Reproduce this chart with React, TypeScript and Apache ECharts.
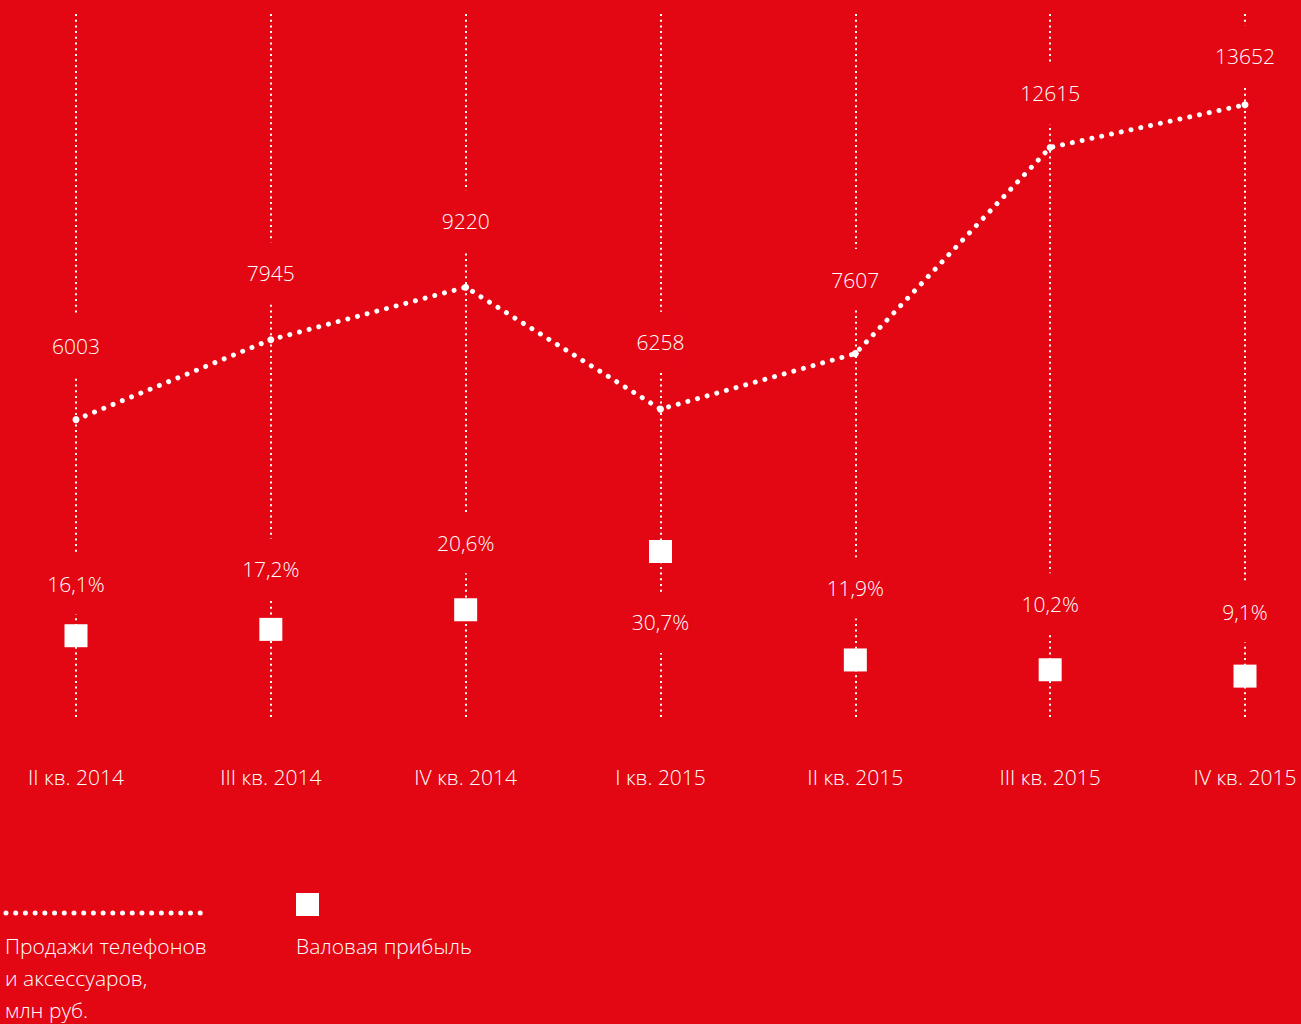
import React, { useEffect, useRef } from "react";
import * as echarts from "echarts";

const categories = [
  "II кв. 2014",
  "III кв. 2014",
  "IV кв. 2014",
  "I кв. 2015",
  "II кв. 2015",
  "III кв. 2015",
  "IV кв. 2015",
];
const sales = [6003, 7945, 9220, 6258, 7607, 12615, 13652];
const grossMargin = [16.1, 17.2, 20.6, 30.7, 11.9, 10.2, 9.1];

const salesName = "Продажи телефонов\nи аксессуаров,\nмлн руб.";
const marginName = "Валовая прибыль";

// layout: vertical label shifts (px) relative to the point
const salesLabelShift = [-74, -67, -66, -67, -74, -54, -49];
const marginLabelShift = [-52, -60, -67, 71, -72, -66, -64];

const RED = "#E30613";
const FONT = "'Open Sans', 'Noto Sans', sans-serif";

export default function App() {
  const ref = useRef<HTMLDivElement>(null);
  useEffect(() => {
    document.body.style.margin = "0";
    if (!ref.current) return;
    const chart = echarts.init(ref.current, null, { renderer: "svg" });
    const labelBase = {
      show: true,
      position: "inside",
      color: "#ffffff",
      fontFamily: FONT,
      fontWeight: 300,
      fontSize: 21,
      lineHeight: 21,
      backgroundColor: RED,
      padding: [20, 2],
    };
    chart.setOption({
      animation: false,
      backgroundColor: RED,
      textStyle: { fontFamily: FONT },
      grid: { left: 76, right: 56, top: 14, bottom: 306 },
      xAxis: {
        type: "category",
        data: categories,
        boundaryGap: false,
        axisLine: { show: false },
        axisTick: { show: false },
        axisLabel: {
          color: "#ffffff",
          fontFamily: FONT,
          fontWeight: 300,
          fontSize: 21,
          margin: 48,
          interval: 0,
        },
        splitLine: {
          show: true,
          lineStyle: { color: "#ffffff", width: 2, type: [2, 3.7] },
        },
      },
      yAxis: [
        { type: "value", min: -1245, max: 15857, show: false, splitLine: { show: false } },
        { type: "value", min: 1.84, max: 123.86, show: false, splitLine: { show: false } },
      ],
      series: [
        {
          name: "sales",
          type: "line",
          yAxisIndex: 0,
          symbol: "circle",
          symbolSize: 7,
          itemStyle: { color: "#ffffff" },
          lineStyle: { color: "#ffffff", width: 5, type: [0.01, 10], cap: "round" },
          emphasis: { disabled: true },
          silent: true,
          data: sales.map((v, i) => ({
            value: v,
            label: { ...labelBase, offset: [0, salesLabelShift[i]] },
          })),
          label: { ...labelBase, formatter: (p: any) => String(p.value) },
          z: 3,
        },
        {
          name: "margin",
          type: "scatter",
          yAxisIndex: 1,
          symbol: "rect",
          symbolSize: 23,
          itemStyle: { color: "#ffffff", opacity: 1 },
          emphasis: { disabled: true },
          silent: true,
          data: grossMargin.map((v, i) => ({
            value: v,
            label: { ...labelBase, offset: [0, marginLabelShift[i]] },
          })),
          label: {
            ...labelBase,
            formatter: (p: any) => p.value.toFixed(1).replace(".", ",") + "%",
          },
          z: 4,
        },
      ],
      graphic: [
        {
          type: "line",
          shape: { x1: 6, y1: 913, x2: 201, y2: 913 },
          style: { stroke: "#ffffff", lineWidth: 5, lineDash: [0.01, 9.7], lineCap: "round" },
          silent: true,
        },
        {
          type: "text",
          left: 5,
          top: 930,
          style: {
            text: salesName,
            fill: "#ffffff",
            font: `300 21px ${FONT}`,
            lineHeight: 32,
          },
        },
        {
          type: "rect",
          shape: { x: 296, y: 893, width: 23, height: 23 },
          style: { fill: "#ffffff" },
          silent: true,
        },
        {
          type: "text",
          left: 296,
          top: 930,
          style: {
            text: marginName,
            fill: "#ffffff",
            font: `300 21px ${FONT}`,
            lineHeight: 32,
          },
        },
      ],
    });
    return () => chart.dispose();
  }, []);
  return <div ref={ref} style={{ width: 1301, height: 1024, background: RED }} />;
}
